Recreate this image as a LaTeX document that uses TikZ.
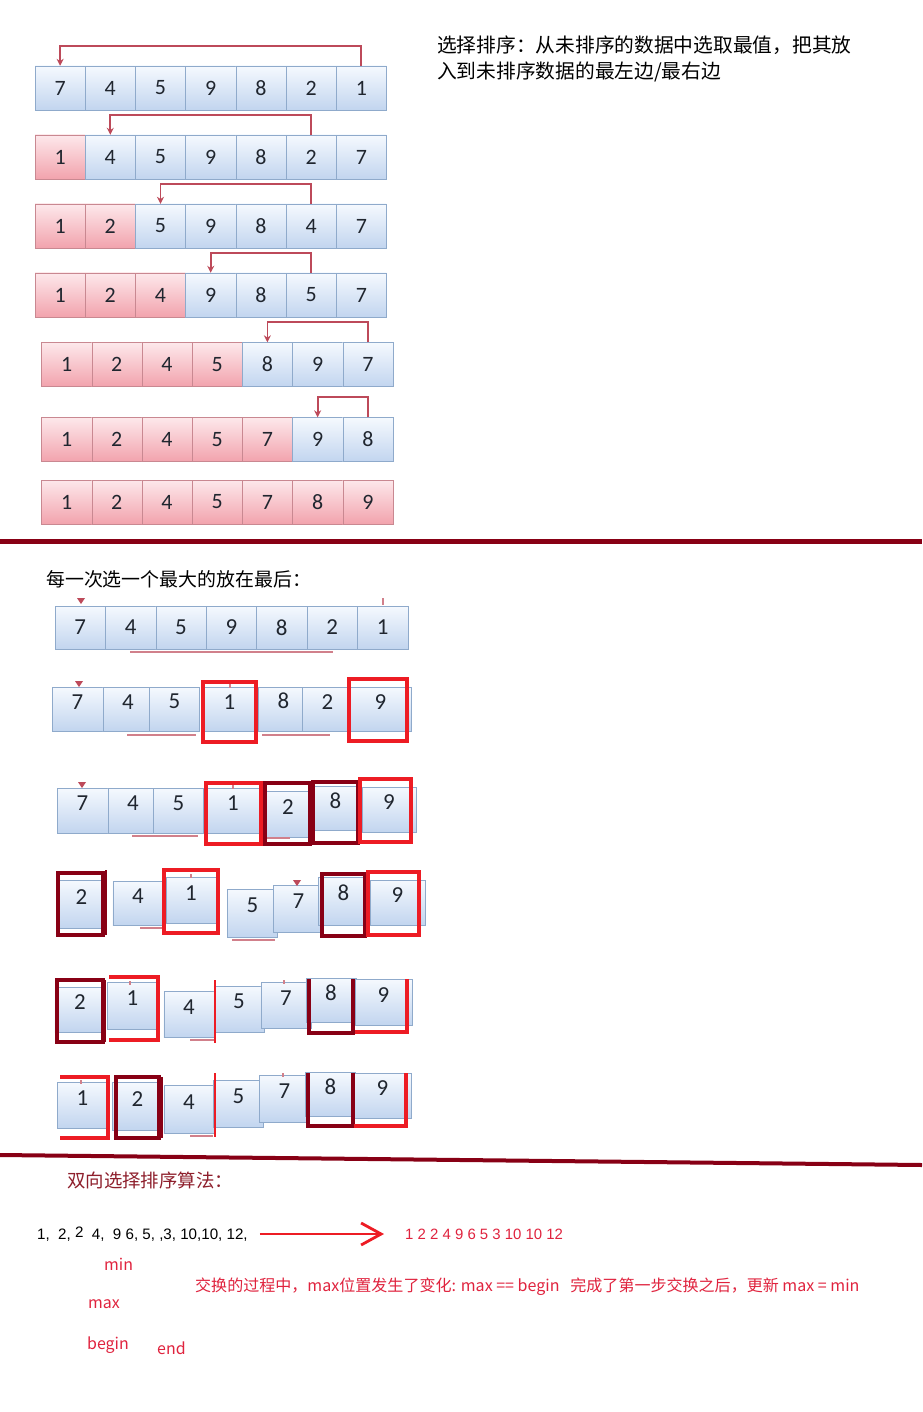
\documentclass[tikz,border=0pt]{standalone}
\usepackage{fontspec}
\setmainfont{Carlito}
\newfontfamily\cjk{Noto Sans CJK SC}
\newfontfamily\arialf{Liberation Sans}
\usetikzlibrary{arrows.meta,fit}
\definecolor{cellblueA}{HTML}{F5F9FE}
\definecolor{cellblueB}{HTML}{C2D5EF}
\definecolor{cellblueD}{HTML}{8FAACB}
\definecolor{cellpinkA}{HTML}{FDE8EB}
\definecolor{cellpinkB}{HTML}{F2A3AD}
\definecolor{cellpinkD}{HTML}{C98891}
\definecolor{digitgray}{HTML}{20262F}
\definecolor{swapred}{HTML}{BD4A5A}
\definecolor{paintred}{HTML}{ED1C24}
\definecolor{paintdark}{HTML}{880015}
\definecolor{notered}{HTML}{E0233E}
\definecolor{titlered}{HTML}{8E1F2C}

\tikzset{
  bcell/.style={draw=cellblueD, top color=cellblueA, bottom color=cellblueB, inner sep=0pt,
    minimum width=50.2bp, minimum height=44bp, text=digitgray, font=\fontsize{22}{24}\selectfont},
  pcell/.style={bcell, draw=cellpinkD, top color=cellpinkA, bottom color=cellpinkB},
  tone/.code={\ifnum#1>0 \tikzset{pcell}\else\tikzset{bcell}\fi},
  moveline/.style={draw=swapred, line width=1.8bp, -{Stealth[length=7bp,width=7bp]}},
  redbox/.style={draw=paintred, line width=4bp},
  darkbox/.style={draw=paintdark, line width=4bp},
  thinred/.style={draw=paintred, line width=1.5bp},
  thindark/.style={draw=paintdark, line width=1.5bp},
  stubtip/.style={fill=swapred},
  stubline/.style={draw=swapred!70, line width=1.3bp},
  sepline/.style={draw=paintdark, line width=4.5bp},
  note/.style={anchor=west, inner sep=0pt, text=notered, font=\cjk\fontsize{16}{18}\selectfont},
  bigarrow/.style={draw=paintred, line width=2.8bp, -{Straight Barb[length=20bp,width=22bp]}}
}
\newcommand\mcell[6]{\node[bcell, font=\fontsize{23}{25}\selectfont, fit={(#2,#3) (#4,#5)}] (#1) {#6};}
\newcommand\stubtri[2]{\fill[stubtip] (#1-4,#2-3) -- (#1+4,#2-3) -- (#1,#2+3) -- cycle;}

\begin{document}
\begin{tikzpicture}[x=1bp, y=-1bp]
\fill[white] (0,0) rectangle (922,1412);
\useasboundingbox (0,0) rectangle (922,1412);

\foreach \vals/\y/\x/\np [count=\r] in {
  {7,4,5,9,8,2,1}/88/35/0, {1,4,5,9,8,2,7}/157/35/1, {1,2,5,9,8,4,7}/226/35/2,
  {1,2,4,9,8,5,7}/295/35/3, {1,2,4,5,8,9,7}/364.5/41.5/4, {1,2,4,5,7,9,8}/439.5/41.5/5,
  {1,2,4,5,7,8,9}/502/41.5/7}
  \foreach \v [count=\c] in \vals {
    \pgfmathtruncatemacro\pk{\c<=\np}
    \node[tone=\pk] (r\r-\c) at ({\x+(\c-0.5)*50.2},\y) {\v};
  }
\foreach \r/\f/\t in {1/7/1,2/6/2,3/6/3,4/6/4,5/7/5,6/7/6}
  \draw[moveline] (r\r-\f.north) -- ++(0,-20) -| (r\r-\t.north);

\node[anchor=west, inner sep=0pt, align=left, font=\cjk\fontsize{19.8}{26}\selectfont] (intro) at (437,59)
  {选择排序：从未排序的数据中选取最值，把其放\\入到未排序数据的最左边/最右边};

\draw[sepline] (0,541.5) -- (922,541.5);

\node[anchor=west, inner sep=0pt, font=\cjk\fontsize{19}{22}\selectfont] (maxtitle) at (46,579) {每一次选一个最大的放在最后：};

\foreach \v [count=\c] in {7,4,5,9,8,2,1}
  \node[bcell, minimum width=50.4bp, minimum height=43bp, font=\fontsize{23}{25}\selectfont] (a\c) at ({55+(\c-0.5)*50.4},627.5) {\v};
\stubtri{81}{601}
\draw[stubline] (383,598) -- (383,605);
\draw[stubline] (130,652) -- (333,652);

\mcell{b1}{52}{687}{103}{731}{7}
\mcell{b2}{103}{687}{153}{731}{4}
\mcell{b3}{153}{687}{196}{731}{5}
\mcell{b4}{206}{687}{253}{731}{1}
\mcell{b5}{262}{687}{305}{731}{8}
\mcell{b6}{305}{687}{350}{731}{2}
\mcell{b7}{350}{687}{411}{731}{9}
\stubtri{79}{684}
\draw[stubline] (230,684) -- (230,688);
\draw[stubline] (127,735) -- (196,735);
\draw[stubline] (262,735) -- (330,735);
\draw[redbox] (203,682) rectangle (256,742);
\draw[redbox] (349,679) rectangle (407,741);

\mcell{c1}{57}{788}{108}{833}{7}
\mcell{c2}{108}{788}{158}{833}{4}
\mcell{c3}{158}{788}{199}{833}{5}
\mcell{c4}{206}{788}{260}{833}{1}
\mcell{c5}{268}{791}{308}{837}{2}
\mcell{c6}{315}{787}{356}{830}{8}
\mcell{c7}{362}{787}{416}{832}{9}
\stubtri{82}{785}
\draw[stubline] (233,785) -- (233,789);
\draw[stubline] (132,836) -- (198,836);
\draw[stubline] (267,838) -- (290,838);
\draw[redbox] (206,783) rectangle (261,844);
\draw[darkbox] (265,783) rectangle (310,844);
\draw[darkbox] (313,782) rectangle (358,843);
\draw[redbox] (360,779) rectangle (411,842);

\mcell{d1}{60}{880}{103}{928}{2}
\mcell{d2}{113}{881}{163}{925}{4}
\mcell{d3}{166}{877}{216}{923}{1}
\mcell{d4}{230}{889}{275}{937}{5}
\mcell{d5}{279}{885}{318}{932}{7}
\mcell{d6}{324}{877}{363}{925}{8}
\mcell{d7}{370}{880}{425}{925}{9}
\stubtri{297}{883}
\draw[stubline] (191,874) -- (191,878);
\draw[stubline] (140,928) -- (163,928);
\draw[stubline] (232,940) -- (275,940);
\draw[darkbox] (58,873) rectangle (103,935);
\draw[thindark] (106,870) -- (106,935);
\draw[redbox] (164,870) rectangle (218,933);
\draw[darkbox] (322,874) rectangle (365,936);
\draw[redbox] (368,872) rectangle (419,935);

\mcell{e1}{60}{987}{100}{1032}{2}
\mcell{e2}{109}{982}{156}{1029}{1}
\mcell{e3}{164}{991}{214}{1037}{4}
\mcell{e4}{217}{986}{261}{1032}{5}
\mcell{e5}{266}{982}{306}{1028}{7}
\mcell{e6}{309}{979}{353}{1022}{8}
\mcell{e7}{355}{979}{412}{1025}{9}
\draw[stubline] (130,981) -- (130,985);
\draw[stubline] (284,980) -- (284,984);
\draw[stubline] (190,1040) -- (214,1040);
\draw[darkbox] (57,980) rectangle (103,1042);
\draw[thindark] (105,980) -- (105,1042);
\draw[redbox] (109,977) -- (158,977) -- (158,1040) -- (109,1040);
\draw[thinred] (215,980) -- (215,1043);
\draw[darkbox] (309,979) -- (309,1033) -- (353,1033) -- (353,979);
\draw[redbox] (407,979) -- (407,1032) -- (355,1032);

\mcell{f1}{60}{1082}{105}{1128}{1}
\mcell{f2}{118}{1082}{157}{1130}{2}
\mcell{f3}{165}{1085}{213}{1133}{4}
\mcell{f4}{217}{1080}{260}{1127}{5}
\mcell{f5}{265}{1075}{304}{1122}{7}
\mcell{f6}{308}{1073}{353}{1116}{8}
\mcell{f7}{354}{1073}{411}{1118}{9}
\draw[stubline] (81,1080) -- (81,1084);
\draw[stubline] (283,1073) -- (283,1077);
\draw[stubline] (190,1136) -- (213,1136);
\draw[redbox] (60,1077) -- (108,1077) -- (108,1138) -- (60,1138);
\draw[darkbox] (116,1077) rectangle (159,1138);
\draw[thindark] (162,1077) -- (162,1138);
\draw[thinred] (215,1073) -- (215,1137);
\draw[darkbox] (308,1073) -- (308,1126) -- (353,1126) -- (353,1073);
\draw[redbox] (406,1073) -- (406,1126) -- (354,1126);

\draw[sepline, line width=4bp] (0,1155) -- (922,1165);

\node[anchor=west, inner sep=0pt, text=titlered, font=\cjk\fontsize{18.5}{22}\selectfont] (twotitle) at (67,1180) {双向选择排序算法：};
\node[anchor=west, inner sep=0pt, font=\arialf\fontsize{15.2}{17}\selectfont] (seq) at (37,1234)
  {1,\ \ 2, \raisebox{2bp}{2}\ \ 4,\ \ 9 6, 5, ,3, 10,10, 12,};
\node[anchor=west, inner sep=0pt, text=notered, font=\arialf\fontsize{15}{17}\selectfont] (res) at (405,1234)
  {1 2 2 4 9 6 5 3 10 10 12};
\draw[bigarrow] ([xshift=12bp]seq.east) -- ([xshift=-21bp]res.west);

\node[note] (minlbl) at (104,1264) {min};
\node[note] (maxlbl) at (88,1304) {max};
\node[note] (beginlbl) at (87,1345) {begin};
\node[note] (endlbl) at (157,1348) {end};
\node[note, font=\cjk\fontsize{16.1}{18}\selectfont] (why) at (195,1287)
  {交换的过程中，max位置发生了变化: max == begin\ \ \ 完成了第一步交换之后，更新 max = min};
\end{tikzpicture}
\end{document}
